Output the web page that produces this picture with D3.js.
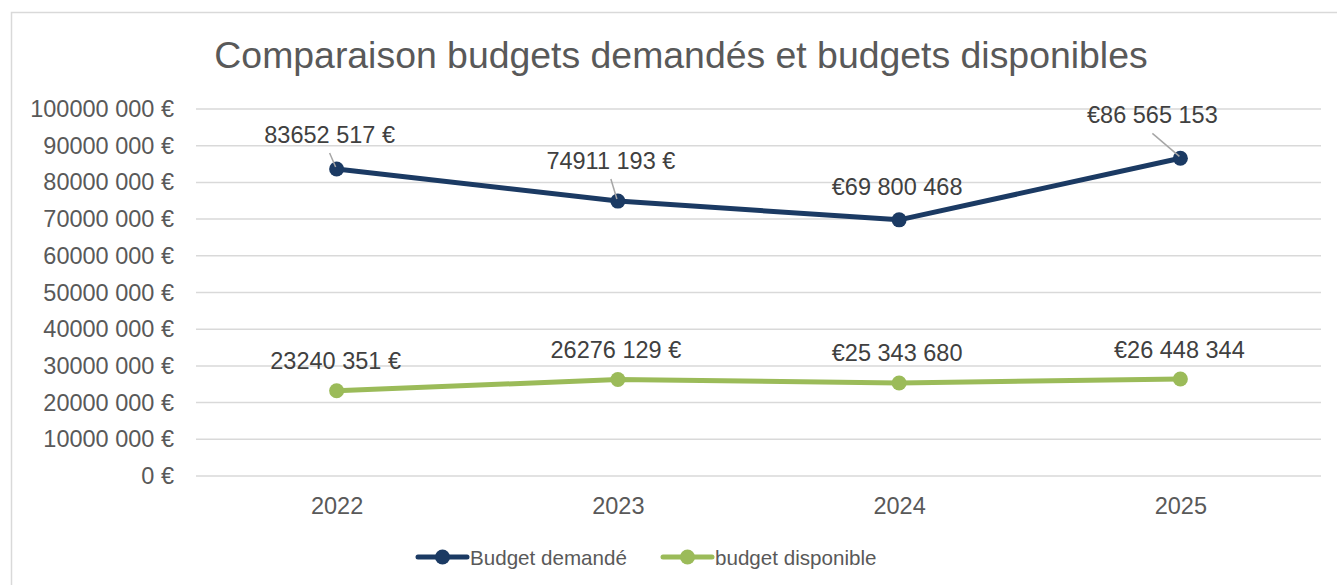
<!DOCTYPE html>
<html>
<head>
<meta charset="utf-8">
<script src="https://cdn.jsdelivr.net/npm/d3@7"></script>
<style>
  body { margin: 0; background: #fff; }
  svg text { font-family: "Liberation Sans", Arial, sans-serif; }
</style>
</head>
<body>
<div id="chart"></div>
<script>
// Data
const years = ["2022", "2023", "2024", "2025"];
const budgetDemande = [83652517, 74911193, 69800468, 86565153];
const budgetDisponible = [23240351, 26276129, 25343680, 26448344];
const labelsDemande = ["83652 517 €", "74911 193 €", "€69 800 468", "€86 565 153"];
const labelsDisponible = ["23240 351 €", "26276 129 €", "€25 343 680", "€26 448 344"];
const yTicks = [0, 10000000, 20000000, 30000000, 40000000, 50000000, 60000000, 70000000, 80000000, 90000000, 100000000];
const seriesNames = ["Budget demandé", "budget disponible"];

const width = 1337, height = 585;
const plot = { left: 196, right: 1321, top: 109, bottom: 476 };

const svg = d3.select("#chart")
  .append("svg")
  .attr("width", width)
  .attr("height", height);

// chart border
svg.append("rect")
  .attr("x", 11.5).attr("y", 12.5)
  .attr("width", 1340).attr("height", 590)
  .attr("fill", "#fff")
  .attr("stroke", "#d9d9d9")
  .attr("stroke-width", 1.5);

// Title
svg.append("text")
  .attr("x", 681)
  .attr("y", 68)
  .attr("text-anchor", "middle")
  .style("font-size", "37.4px")
  .style("fill", "#595959")
  .text("Comparaison budgets demandés et budgets disponibles");

const x = d3.scalePoint().domain(years).range([plot.left, plot.right]).padding(0.5);
const y = d3.scaleLinear().domain([0, 100000000]).range([plot.bottom, plot.top]);

const fmtTick = v => {
  if (v === 0) return "0 €";
  const s = String(v);
  return s.slice(0, s.length - 3) + " " + s.slice(-3) + " €";
};

// Gridlines
svg.append("g")
  .selectAll("line")
  .data(yTicks)
  .enter()
  .append("line")
  .attr("x1", plot.left).attr("x2", plot.right)
  .attr("y1", d => y(d)).attr("y2", d => y(d))
  .attr("stroke", "#d9d9d9")
  .attr("stroke-width", 1.5);

// Y axis
svg.append("g")
  .attr("transform", `translate(${plot.left - 22},0)`)
  .call(d3.axisLeft(y).tickValues(yTicks).tickFormat(fmtTick).tickSize(0).tickPadding(0))
  .call(g => g.select(".domain").remove())
  .selectAll("text")
  .style("font-size", "23.5px")
  .style("fill", "#595959")
  .style("font-family", "'Liberation Sans', Arial, sans-serif");

// X axis
svg.append("g")
  .attr("transform", `translate(0,${plot.bottom})`)
  .call(d3.axisBottom(x).tickSize(0).tickPadding(21))
  .call(g => g.select(".domain").remove())
  .selectAll("text")
  .style("font-size", "23.5px")
  .style("fill", "#595959")
  .style("font-family", "'Liberation Sans', Arial, sans-serif");

const series = [
  { name: seriesNames[0], values: budgetDemande, labels: labelsDemande, color: "#1b3a63",
    // label offsets relative to point: dx, dy (baseline), leader line
    offsets: [[-7, -26, true], [-7, -32, true], [-2, -25, false], [-28, -35, true]] },
  { name: seriesNames[1], values: budgetDisponible, labels: labelsDisponible, color: "#9bbb59",
    offsets: [[-1, -22, false], [-2, -22, false], [-2, -22, false], [-1, -21, false]] }
];

const line = d3.line()
  .x((d, i) => x(years[i]))
  .y(d => y(d));

series.forEach(s => {
  svg.append("path")
    .datum(s.values)
    .attr("d", line)
    .attr("fill", "none")
    .attr("stroke", s.color)
    .attr("stroke-width", 5)
    .attr("stroke-linejoin", "round")
    .attr("stroke-linecap", "round");

  svg.append("g")
    .selectAll("circle")
    .data(s.values)
    .enter()
    .append("circle")
    .attr("cx", (d, i) => x(years[i]))
    .attr("cy", d => y(d))
    .attr("r", 7.5)
    .attr("fill", s.color);

  // leader lines
  s.values.forEach((v, i) => {
    const o = s.offsets[i];
    const px = x(years[i]), py = y(v);
    if (o[2]) {
      svg.append("line")
        .attr("x1", px + o[0])
        .attr("y1", py + o[1] + 10)
        .attr("x2", px - 1)
        .attr("y2", py - 2)
        .attr("stroke", "#a6a6a6")
        .attr("stroke-width", 1.5);
    }
  });

  svg.append("g")
    .selectAll("text")
    .data(s.values)
    .enter()
    .append("text")
    .attr("x", (d, i) => x(years[i]) + s.offsets[i][0])
    .attr("y", (d, i) => y(d) + s.offsets[i][1])
    .attr("text-anchor", "middle")
    .style("font-size", "23.5px")
    .style("fill", "#404040")
    .text((d, i) => s.labels[i]);
});

// Legend
const legendItems = [
  { name: seriesNames[0], color: "#1b3a63", x: 418 },
  { name: seriesNames[1], color: "#9bbb59", x: 663 }
];
const legendY = 557;
const lg = svg.append("g").selectAll("g")
  .data(legendItems)
  .enter()
  .append("g")
  .attr("transform", d => `translate(${d.x},${legendY})`);

lg.append("line")
  .attr("x1", 0).attr("x2", 49)
  .attr("stroke", d => d.color)
  .attr("stroke-width", 5)
  .attr("stroke-linecap", "round");
lg.append("circle")
  .attr("cx", 24.5).attr("r", 7.5)
  .attr("fill", d => d.color);
lg.append("text")
  .attr("x", 52)
  .attr("y", 7.5)
  .style("font-size", "20.6px")
  .style("fill", "#595959")
  .text(d => d.name);
</script>
</body>
</html>
